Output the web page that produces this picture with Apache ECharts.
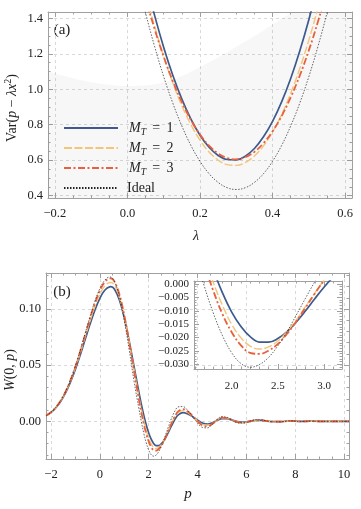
<!DOCTYPE html>
<html>
<head>
<meta charset="utf-8">
<script src="https://cdn.jsdelivr.net/npm/echarts@6/dist/echarts.min.js"></script>
<style>
  html, body { margin: 0; padding: 0; background: #fff; }
  #chart { width: 361px; height: 509px; }
</style>
</head>
<body>
<div id="chart"></div>
<script>
// ---- panel (a): Var(p - lambda x^2) against lambda ----
const LAMBDA = [0.025, 0.05, 0.075, 0.1, 0.125, 0.15, 0.175, 0.2, 0.225, 0.25, 0.275, 0.3,
  0.325, 0.35, 0.375, 0.4, 0.425, 0.45, 0.475, 0.5, 0.525, 0.55, 0.575]
const VAR_M1 = [1.841, 1.617, 1.415, 1.236, 1.079, 0.944, 0.831, 0.741, 0.673, 0.627, 0.604, 0.602,
  0.623, 0.666, 0.732, 0.819, 0.929, 1.061, 1.216, 1.392, 1.591, 1.812, 2.056]
const VAR_M2 = [1.755, 1.544, 1.354, 1.185, 1.036, 0.907, 0.800, 0.713, 0.646, 0.601, 0.575, 0.571,
  0.587, 0.624, 0.681, 0.759, 0.857, 0.977, 1.117, 1.277, 1.458, 1.660, 1.882]
const VAR_M3 = [1.707, 1.514, 1.339, 1.183, 1.046, 0.927, 0.827, 0.745, 0.682, 0.638, 0.612, 0.605,
  0.617, 0.647, 0.696, 0.763, 0.849, 0.954, 1.077, 1.219, 1.380, 1.559, 1.757]
const VAR_IDEAL = [1.637, 1.429, 1.240, 1.071, 0.922, 0.793, 0.683, 0.594, 0.524, 0.475, 0.445, 0.435,
  0.445, 0.475, 0.524, 0.594, 0.683, 0.793, 0.922, 1.071, 1.240, 1.429, 1.637]
// grey shaded region (below this boundary)
const SHADE_LAMBDA = [-0.22, -0.15, -0.1, -0.05, 0, 0.05, 0.1, 0.15, 0.2, 0.25, 0.3, 0.35, 0.4, 0.45, 0.5, 0.55, 0.62]
const SHADE_VAR = [1.100, 1.062, 1.040, 1.025, 1.018, 1.022, 1.040, 1.075, 1.125, 1.180, 1.240, 1.300, 1.365, 1.430, 1.50, 1.57, 1.67]

// ---- panel (b): W(0, p) against p ----
const P = [-2.2, -2, -1.8, -1.6, -1.4, -1.2, -1, -0.8, -0.6, -0.4, -0.2, 0, 0.2, 0.4, 0.45,
  0.6, 0.8, 1, 1.2, 1.4, 1.6,
  1.7, 1.8, 1.9, 2, 2.1, 2.2, 2.3, 2.4, 2.5, 2.6, 2.7, 2.8, 2.9, 3, 3.1, 3.2,
  3.4, 3.6, 3.8, 4, 4.2, 4.4, 4.6, 4.8, 5, 5.2, 5.4, 5.6, 5.8, 6, 6.2, 6.4, 6.6, 6.8, 7,
  7.4, 7.8, 8.2, 8.6, 9, 9.4, 9.8, 10.2]
const W_M1 = [0.0050, 0.0079, 0.0121, 0.0179, 0.0255, 0.0351, 0.0464, 0.0593, 0.0730, 0.0867, 0.0992, 0.1096, 0.1167, 0.1198, 0.1199,
  0.1176, 0.1081, 0.0922, 0.0716, 0.0487, 0.0258,
  0.0151, 0.0053, -0.0033, -0.0105, -0.0159, -0.0197, -0.0217, -0.0217, -0.0204, -0.0178, -0.0142, -0.0100, -0.0055, -0.0012, 0.0026, 0.0055,
  0.0077, 0.0066, 0.0040, 0.0010, -0.0015, -0.0024, -0.0014, 0.0007, 0.0023, 0.0023, 0.0012, -0.0001, -0.0008, -0.0005, 0.0002, 0.0008, 0.0008, 0.0003, -0.0002,
  -0.0002, 0.0003, -0.0001, 0.0001, 0, 0, 0, 0]
const W_M2 = [0.0051, 0.0081, 0.0124, 0.0184, 0.0262, 0.0360, 0.0478, 0.0611, 0.0753, 0.0895, 0.1025, 0.1132, 0.1205, 0.1236, 0.1237,
  0.1210, 0.1104, 0.0930, 0.0707, 0.0460, 0.0216,
  0.0106, 0.0006, -0.0080, -0.0151, -0.0201, -0.0232, -0.0243, -0.0235, -0.0213, -0.0178, -0.0134, -0.0084, -0.0034, 0.0014, 0.0053, 0.0080,
  0.0094, 0.0076, 0.0041, 0.0003, -0.0027, -0.0036, -0.0020, 0.0009, 0.0029, 0.0027, 0.0012, -0.0004, -0.0011, -0.0007, 0.0003, 0.0010, 0.0010, 0.0003, -0.0003,
  -0.0003, 0.0003, -0.0001, 0.0001, 0, 0, 0, 0]
const W_M3 = [0.0051, 0.0081, 0.0125, 0.0185, 0.0266, 0.0367, 0.0488, 0.0625, 0.0772, 0.0918, 0.1053, 0.1164, 0.1240, 0.1272, 0.1273,
  0.1244, 0.1131, 0.0945, 0.0707, 0.0446, 0.0192,
  0.0077, -0.0025, -0.0113, -0.0180, -0.0229, -0.0257, -0.0261, -0.0249, -0.0224, -0.0186, -0.0140, -0.0088, -0.0036, 0.0013, 0.0055, 0.0086,
  0.0107, 0.0088, 0.0047, -0.0001, -0.0036, -0.0045, -0.0024, 0.0010, 0.0032, 0.0029, 0.0012, -0.0006, -0.0013, -0.0008, 0.0003, 0.0011, 0.0011, 0.0003, -0.0003,
  -0.0004, 0.0003, -0.0001, 0.0001, 0, 0, 0, 0]
const W_IDEAL = [0.0050, 0.0081, 0.0125, 0.0186, 0.0268, 0.0371, 0.0495, 0.0636, 0.0786, 0.0935, 0.1071, 0.1182, 0.1256, 0.1285, 0.1284,
  0.1245, 0.1111, 0.0900, 0.0638, 0.0357, 0.0110,
  -0.0005, -0.0108, -0.0193, -0.0257, -0.0297, -0.0311, -0.0301, -0.0274, -0.0231, -0.0178, -0.0116, -0.0053, 0.0008, 0.0061, 0.0102, 0.0128,
  0.0131, 0.0096, 0.0041, -0.0016, -0.0054, -0.0059, -0.0028, 0.0017, 0.0042, 0.0035, 0.0012, -0.0011, -0.0018, -0.0010, 0.0005, 0.0014, 0.0013, 0.0004, -0.0004,
  -0.0005, 0.0004, -0.0002, 0.0001, 0, 0, 0, 0]

const SERIF = "'Liberation Serif', 'DejaVu Serif', serif"
const FRAME = '#a0a0a0'
const INK = '#222'
const GRIDLINE = { show: true, showMinLine: false, showMaxLine: false, lineStyle: { color: '#d9d9d9', type: [3, 3], width: 1 } }

const zip = (xs, ys) => xs.map((x, i) => [x, ys[i]])
const fmt = digits => v => {
  if (Math.abs(v) < 1e-12) v = 0
  return (v < 0 ? '\u2212' : '') + Math.abs(v).toFixed(digits)
}

// one side of a frame: ticks inside, minor ticks, optional labels and grid lines
function side (gridIndex, position, min, max, step, minorSplit, label, grid) {
  return {
    type: 'value',
    gridIndex,
    position,
    min,
    max,
    minInterval: step,
    maxInterval: step,
    splitNumber: 5,
    axisLine: { show: true, onZero: false, lineStyle: { color: FRAME, width: 1 } },
    axisTick: { show: true, inside: true, length: 5, lineStyle: { color: FRAME } },
    minorTick: { show: true, splitNumber: minorSplit, length: 2.5, lineStyle: { color: FRAME } },
    axisLabel: label
      ? Object.assign({ show: true, showMinLabel: false, showMaxLabel: false, color: INK, fontFamily: SERIF }, label)
      : { show: false },
    splitLine: grid ? GRIDLINE : { show: false }
  }
}

const STYLES = {
  M1: { color: '#3c5a8b', width: 1.7, type: 'solid' },
  M2: { color: '#f4c47a', width: 1.4, type: [8, 2.5] },
  M3: { color: '#e8603c', width: 1.8, type: [7, 2.5, 2, 2.5] },
  Ideal: { color: '#222222', width: 0.7, type: [1.5, 1.5] }
}

function curve (name, data, axisIndex) {
  const s = STYLES[name]
  return {
    name,
    type: 'line',
    xAxisIndex: axisIndex,
    yAxisIndex: axisIndex,
    data,
    smooth: 0.4,
    symbol: 'none',
    silent: true,
    itemStyle: { color: s.color },
    lineStyle: { color: s.color, width: s.width, type: s.type }
  }
}

const chart = echarts.init(document.getElementById('chart'), null, { renderer: 'canvas' })

const option = {
  animation: false,
  backgroundColor: '#fff',
  grid: [
    { left: 48, top: 12, width: 304, height: 186, outerBoundsMode: 'none' },
    { left: 46, top: 273, width: 303, height: 186, outerBoundsMode: 'none' },
    { left: 194, top: 281, width: 148, height: 88, outerBoundsMode: 'none' }
  ],
  xAxis: [
    side(0, 'bottom', -0.219, 0.619, 0.2, 4, { fontSize: 12.5, margin: 9, formatter: fmt(1) }, true),
    side(0, 'top', -0.219, 0.619, 0.2, 4, null, false),
    side(1, 'bottom', -2.205, 10.2, 2, 4, { fontSize: 12.5, margin: 9, formatter: fmt(0) }, true),
    side(1, 'top', -2.205, 10.2, 2, 4, null, false),
    side(2, 'bottom', 1.5915, 3.195, 0.5, 5, { fontSize: 11, margin: 12, formatter: fmt(1) }, false),
    side(2, 'top', 1.5915, 3.195, 0.5, 5, null, false)
  ],
  yAxis: [
    side(0, 'left', 0.387, 1.4355, 0.2, 4, { fontSize: 12.5, margin: 5, formatter: fmt(1) }, true),
    side(0, 'right', 0.387, 1.4355, 0.2, 4, null, false),
    side(1, 'left', -0.0336, 0.1321, 0.05, 5, { fontSize: 12.5, margin: 5, formatter: fmt(2) }, true),
    side(1, 'right', -0.0336, 0.1321, 0.05, 5, null, false),
    side(2, 'left', -0.03176, 0.00112, 0.005, 5, { fontSize: 11, margin: 5, formatter: fmt(3) }, false),
    side(2, 'right', -0.03176, 0.00112, 0.005, 5, null, false)
  ],
  legend: {
    data: ['M1', 'M2', 'M3', 'Ideal'],
    orient: 'vertical',
    left: 58,
    top: 116,
    itemWidth: 54,
    itemHeight: 14,
    itemGap: 4,
    selectedMode: false,
    itemStyle: { opacity: 0 },
    formatter: name => name === 'Ideal'
      ? '{n|Ideal}'
      : '{m|M}{s|T}{t|\u2009 = \u2009' + name.slice(1) + '}',
    textStyle: {
      color: INK,
      fontFamily: SERIF,
      fontSize: 14,
      rich: {
        n: { fontFamily: SERIF, fontSize: 14, lineHeight: 18, padding: [0, 0, 0, 4], color: INK },
        m: { fontFamily: SERIF, fontSize: 14, fontStyle: 'italic', lineHeight: 18, padding: [0, 0, 0, 6], color: INK },
        s: { fontFamily: SERIF, fontSize: 9.5, fontStyle: 'italic', lineHeight: 11, verticalAlign: 'bottom', color: INK },
        t: { fontFamily: SERIF, fontSize: 14, lineHeight: 18, color: INK }
      }
    }
  },
  graphic: [
    { type: 'text', x: 62, y: 30, style: { text: '(a)', fontFamily: SERIF, fontSize: 15, fill: INK, align: 'center', verticalAlign: 'middle' } },
    { type: 'text', x: 62, y: 292, style: { text: '(b)', fontFamily: SERIF, fontSize: 15, fill: INK, align: 'center', verticalAlign: 'middle' } },
    { type: 'text', x: 196, y: 236, style: { text: 'λ', fontFamily: SERIF, fontStyle: 'italic', fontSize: 14, fill: INK, align: 'center', verticalAlign: 'middle' } },
    { type: 'text', x: 188, y: 494, style: { text: 'p', fontFamily: SERIF, fontStyle: 'italic', fontSize: 15, fill: INK, align: 'center', verticalAlign: 'middle' } },
    {
      type: 'text',
      x: 12,
      y: 108,
      rotation: Math.PI / 2,
      style: {
        text: '{r|Var(}{i|p}{r| \u2212 }{i|λx}{s|2}{r|)}',
        align: 'center',
        verticalAlign: 'middle',
        fill: INK,
        rich: {
          r: { fontFamily: SERIF, fontSize: 14, lineHeight: 18, fill: INK },
          i: { fontFamily: SERIF, fontSize: 14, fontStyle: 'italic', lineHeight: 18, fill: INK },
          s: { fontFamily: SERIF, fontSize: 10, lineHeight: 10, verticalAlign: 'top', fill: INK }
        }
      }
    },
    {
      type: 'text',
      x: 10,
      y: 370,
      rotation: Math.PI / 2,
      style: {
        text: '{i|W}{r|(0, }{i|p}{r|)}',
        align: 'center',
        verticalAlign: 'middle',
        fill: INK,
        rich: {
          r: { fontFamily: SERIF, fontSize: 14, lineHeight: 18, fill: INK },
          i: { fontFamily: SERIF, fontSize: 14, fontStyle: 'italic', lineHeight: 18, fill: INK }
        }
      }
    }
  ],
  series: [
    {
      type: 'line',
      xAxisIndex: 0,
      yAxisIndex: 0,
      data: zip(SHADE_LAMBDA, SHADE_VAR),
      smooth: 0.4,
      symbol: 'none',
      silent: true,
      z: 1,
      lineStyle: { width: 0, opacity: 0 },
      areaStyle: { color: 'rgba(0,0,0,0.045)', origin: 'start' }
    },
    curve('M1', zip(LAMBDA, VAR_M1), 0),
    curve('M2', zip(LAMBDA, VAR_M2), 0),
    curve('M3', zip(LAMBDA, VAR_M3), 0),
    curve('Ideal', zip(LAMBDA, VAR_IDEAL), 0),
    curve('M1', zip(P, W_M1), 2),
    curve('M2', zip(P, W_M2), 2),
    curve('M3', zip(P, W_M3), 2),
    curve('Ideal', zip(P, W_IDEAL), 2),
    curve('M1', zip(P, W_M1), 4),
    curve('M2', zip(P, W_M2), 4),
    curve('M3', zip(P, W_M3), 4),
    curve('Ideal', zip(P, W_IDEAL), 4)
  ]
}

chart.setOption(option)
</script>
</body>
</html>
